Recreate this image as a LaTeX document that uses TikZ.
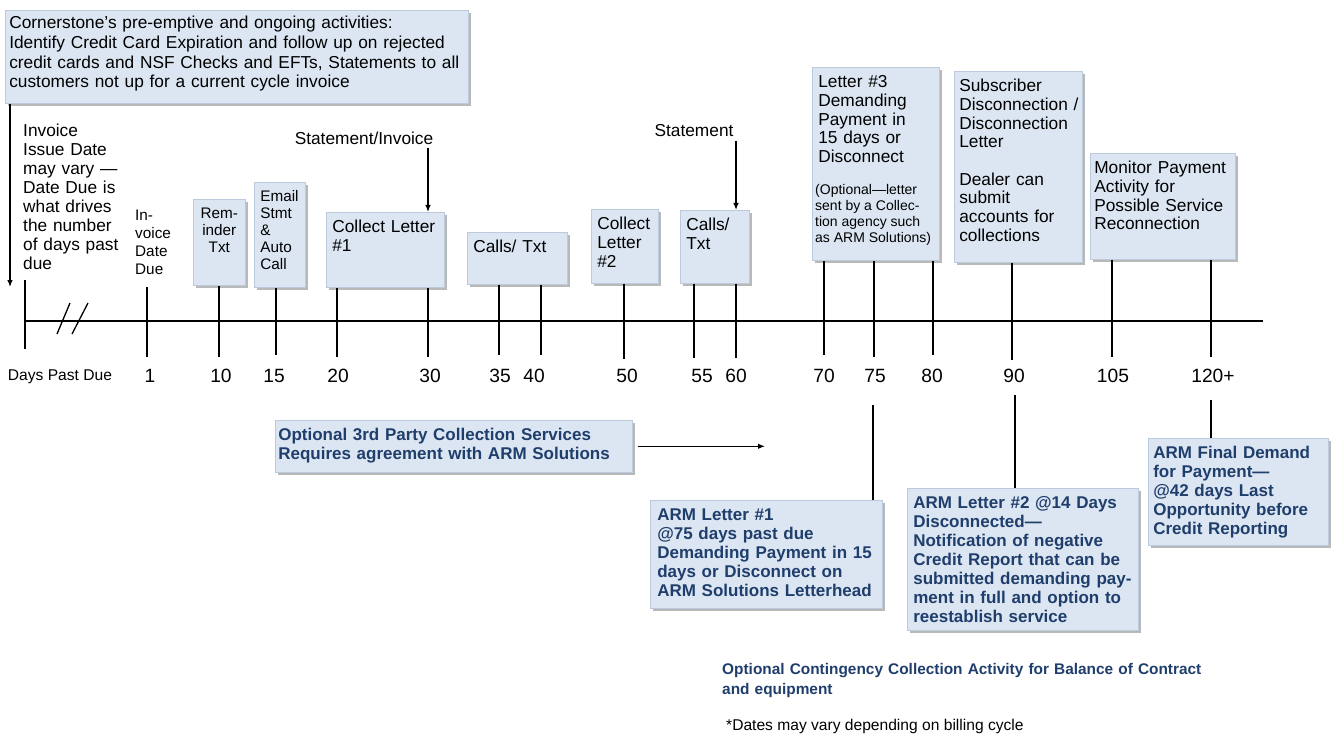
\documentclass[tikz,border=0pt]{standalone}
\usepackage{fontspec}
\setmainfont{Liberation Sans}
\usepackage{tikz}
\usepackage{xcolor}
\usetikzlibrary{shadows, arrows.meta}

\definecolor{cardfill}{RGB}{220,230,242}
\definecolor{cardedge}{RGB}{188,202,222}
\definecolor{armnavy}{RGB}{31,62,108}

\newcommand{\bodyfont}{\fontsize{17.3}{18.7}\selectfont}
\newcommand{\smallboxfont}{\fontsize{15.3}{17}\selectfont}
\newcommand{\navyfont}{\fontsize{17}{19}\selectfont\bfseries}

\tikzset{
  card/.style={anchor=north west, fill=cardfill, draw=cardedge, line width=0.6pt,
    inner xsep=6pt, inner ysep=8pt, text height=12.5pt, align=left, font=\bodyfont,
    drop shadow={shadow xshift=3pt, shadow yshift=-3pt, fill=black!55, opacity=0.5}},
  navycard/.style={card, font=\navyfont, text=armnavy},
  dayline/.style={line width=1.3pt},
  daynum/.style={anchor=base, font=\fontsize{19.2}{20}\selectfont, inner sep=2pt},
  callout/.style={line width=1.2pt, ->},
}

\begin{document}
\begin{tikzpicture}[x=1pt, y=-1pt, >={Latex[length=7pt,width=5.5pt]}]
\useasboundingbox (0,0) rectangle (1341,746);

% activity boxes above the time line
\node[card, font=\fontsize{17.3}{19.7}\selectfont, inner xsep=4pt, inner ysep=6pt, text width=455pt, text depth=68.5pt] (pre) at (5,10) {Cornerstone's pre-emptive and ongoing activities:\\Identify Credit Card Expiration and follow up on rejected\\credit cards and NSF Checks and EFTs, Statements to all\\customers not up for a current cycle invoice};
\node[card, font=\smallboxfont, align=center, text height=11pt, text width=40pt, text depth=59pt] (rem) at (193,199) {Rem-\\inder\\Txt};
\node[card, font=\smallboxfont, text height=11pt, text width=39pt, text depth=78pt] (email) at (254,182) {Email\\Stmt\\\&\\Auto\\Call};
\node[card, text width=106pt, text depth=46.5pt] (cl1) at (326,212) {Collect Letter\\\#1};
\node[card, text width=88pt, text depth=23.5pt] (calls1) at (467,232) {Calls/ Txt};
\node[card, text width=55pt, text depth=45.5pt] (cl2) at (591,209) {Collect\\Letter\\\#2};
\node[card, text width=57pt, text depth=44.5pt] (calls2) at (680,210) {Calls/\\Txt};
\node[card, text width=115pt, text depth=164.5pt] (l3) at (812,67) {Letter \#3\\Demanding\\Payment in\\15 days or\\Disconnect};
\node[anchor=north west, inner sep=0pt, text width=122pt, align=flush left, font=\fontsize{14}{15.9}\selectfont] (l3note) at ([xshift=3pt, yshift=-117pt]l3.north west) {(Optional---letter\\sent by a Collec-\\tion agency such\\as ARM Solutions)};
\node[card, inner xsep=5pt, text width=118pt, text depth=162.5pt] (sub) at (954,71) {Subscriber\\Disconnection~/\\Disconnection\\Letter\\[18.7pt]Dealer can\\submit\\accounts for\\collections};
\node[card, inner xsep=4pt, text width=137pt, text depth=77.5pt] (mon) at (1090,153) {Monitor Payment\\Activity for\\Possible Service\\Reconnection};

% loose texts
\node[anchor=base west, inner sep=0pt, text width=115pt, align=left, font=\fontsize{17.3}{19}\selectfont] (issue) at (23,137) {Invoice\\Issue Date\\may vary ---\\Date Due is\\what drives\\the number\\of days past\\due};
\node[anchor=base west, inner sep=0pt, text width=45pt, align=left, font=\fontsize{15.3}{17.7}\selectfont] (due) at (135,221) {In-\\voice\\Date\\Due};
\node[font=\bodyfont] (stinv) at (364,138) {Statement/Invoice};
\node[font=\bodyfont] (stmt) at (694,131) {Statement};

% time line
\coordinate (d0) at (25,321);
\coordinate (d1) at (147,321);
\coordinate (d10) at (219,321);
\coordinate (d15) at (276,321);
\coordinate (d20) at (337,321);
\coordinate (d30) at (428,321);
\coordinate (d35) at (499,321);
\coordinate (d40) at (541,321);
\coordinate (d50) at (624,321);
\coordinate (d55) at (694,321);
\coordinate (d60) at (736,321);
\coordinate (d70) at (824,321);
\coordinate (d75) at (874,321);
\coordinate (d80) at (933,321);
\coordinate (d90) at (1012,321);
\coordinate (d105) at (1112,321);
\coordinate (d120) at (1211,321);
\coordinate (axend) at (1263,321);

\draw[dayline] (d0) -- (axend);
\draw[dayline] ([yshift=41pt]d0) -- ([yshift=-28pt]d0);
\draw[dayline] (57,334) -- (70,303);
\draw[dayline] (72,334) -- (88,303);

\draw[dayline] ([yshift=34pt]d1) -- ([yshift=-36pt]d1);
\draw[dayline] (rem.south -| d10) -- ([yshift=-36pt]d10);
\draw[dayline] (email.south -| d15) -- ([yshift=-34pt]d15);
\draw[dayline] (cl1.south -| d20) -- ([yshift=-36pt]d20);
\draw[dayline] (cl1.south -| d30) -- ([yshift=-36pt]d30);
\draw[dayline] (calls1.south -| d35) -- ([yshift=-34pt]d35);
\draw[dayline] (calls1.south -| d40) -- ([yshift=-34pt]d40);
\draw[dayline] (cl2.south -| d50) -- ([yshift=-38pt]d50);
\draw[dayline] (calls2.south -| d55) -- ([yshift=-37pt]d55);
\draw[dayline] (calls2.south -| d60) -- ([yshift=-37pt]d60);
\draw[dayline] (l3.south -| d70) -- ([yshift=-34pt]d70);
\draw[dayline] (l3.south -| d75) -- ([yshift=-36pt]d75);
\draw[dayline] (l3.south -| d80) -- ([yshift=-34pt]d80);
\draw[dayline] (sub.south -| d90) -- ([yshift=-39pt]d90);
\draw[dayline] (mon.south -| d105) -- ([yshift=-36pt]d105);
\draw[dayline] (mon.south -| d120) -- ([yshift=-36pt]d120);

\node[font=\fontsize{15.6}{17}\selectfont] (dpd) at (60,377) {Days Past Due};
\node[daynum] (n1) at (150,382) {1};
\node[daynum] (n10) at (221,382) {10};
\node[daynum] (n15) at (274,382) {15};
\node[daynum] (n20) at (338,382) {20};
\node[daynum] (n30) at (430,382) {30};
\node[daynum] (n35) at (500,382) {35};
\node[daynum] (n40) at (534,382) {40};
\node[daynum] (n50) at (627,382) {50};
\node[daynum] (n55) at (702,382) {55};
\node[daynum] (n60) at (736,382) {60};
\node[daynum] (n70) at (824,382) {70};
\node[daynum] (n75) at (875,382) {75};
\node[daynum] (n80) at (932,382) {80};
\node[daynum] (n90) at (1014,382) {90};
\node[daynum] (n105) at (1113,382) {105};
\node[daynum] (n120) at (1213,382) {120+};

% arrows from the top
\coordinate (prearrow) at (10,287);
\draw[callout] (pre.south -| prearrow) -- (prearrow);
\draw[callout] (stinv.south -| d30) -- (cl1.north -| d30);
\draw[callout] (stmt.south -| d60) -- (calls2.north -| d60);

% ARM collection boxes below the time line
\node[navycard, inner xsep=3pt, text width=351pt, text depth=23.5pt] (third) at (275,420) {Optional 3rd Party Collection Services\\Requires agreement with ARM Solutions};
\node[navycard, inner xsep=7pt, text width=218pt, text depth=79.5pt] (arm1) at (650,500) {ARM Letter \#1\\@75 days past due\\Demanding Payment in 15\\days or Disconnect on\\ARM Solutions Letterhead};
\node[navycard, text width=219pt, text depth=113.5pt] (arm2) at (907,488) {ARM Letter \#2 @14 Days\\Disconnected---\\Notification of negative\\Credit Report that can be\\submitted demanding pay-\\ment in full and option to\\reestablish service};
\node[navycard, inner xsep=5pt, text width=170pt, text depth=78.5pt] (armfin) at (1148,438) {ARM Final Demand\\for Payment---\\@42 days Last\\Opportunity before\\Credit Reporting};

\coordinate (thirdend) at (765,443);
\draw[callout, shorten <=5pt] (third.east) -- (third.east -| thirdend);
\coordinate (c75) at (873,405);
\draw[dayline] (c75) -- (arm1.north -| c75);
\coordinate (c90) at (1015,395);
\draw[dayline] (c90) -- (arm2.north -| c90);
\coordinate (c120) at (1211,400);
\draw[dayline] (c120) -- (armfin.north -| c120);

\node[anchor=base west, inner sep=0pt, text width=580pt, align=left, font=\fontsize{15.4}{20}\selectfont\bfseries, text=armnavy] (contingency) at (722,674) {Optional Contingency Collection Activity for Balance of Contract\\and equipment};
\node[anchor=base west, inner sep=0pt, font=\fontsize{15.6}{17}\selectfont] (note) at (726,730) {*Dates may vary depending on billing cycle};
\end{tikzpicture}
\end{document}
